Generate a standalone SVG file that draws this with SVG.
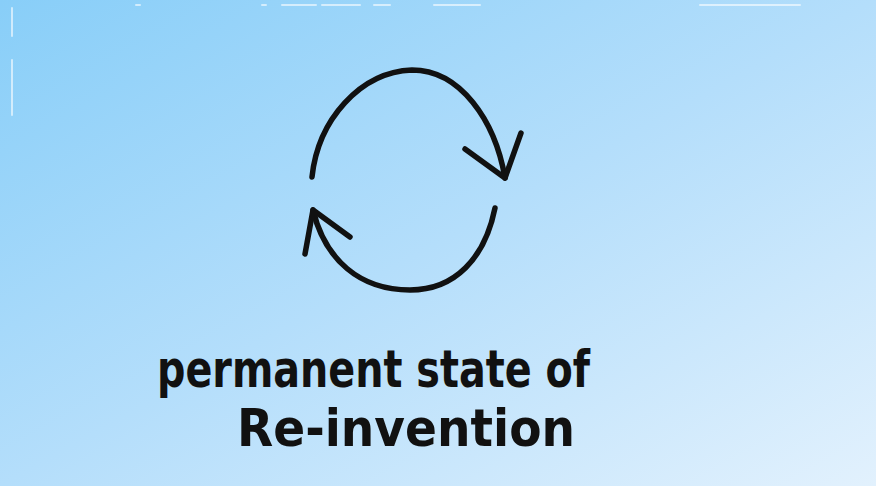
<svg xmlns="http://www.w3.org/2000/svg" width="876" height="486" viewBox="0 0 876 486">
<defs>
<linearGradient id="bg" x1="0" y1="0" x2="1" y2="1">
<stop offset="0" stop-color="#88cef8"/>
<stop offset="0.5" stop-color="#b4defb"/>
<stop offset="1" stop-color="#e2f1fd"/>
</linearGradient>
</defs>
<style>
.ink{fill:none;stroke:#111;stroke-width:5.5;stroke-linecap:round;stroke-linejoin:round}
.lbl{font-family:"DejaVu Sans Condensed","Liberation Sans",sans-serif;font-size:52px;fill:#111;font-weight:bold}
.frame{stroke:#ffffff;stroke-width:2;stroke-linecap:round;opacity:0.6}
</style>
<rect width="876" height="486" fill="url(#bg)"/>
<g id="frame-marks">
<line class="frame" x1="12" y1="8" x2="12" y2="36"/>
<line class="frame" x1="12" y1="60" x2="12" y2="115"/>
<line class="frame" x1="136" y1="5" x2="140" y2="5"/>
<line class="frame" x1="262" y1="5" x2="266" y2="5"/>
<line class="frame" x1="282" y1="5" x2="316" y2="5"/>
<line class="frame" x1="322" y1="5" x2="360" y2="5"/>
<line class="frame" x1="374" y1="5" x2="390" y2="5"/>
<line class="frame" x1="434" y1="5" x2="480" y2="5"/>
<line class="frame" x1="700" y1="5" x2="800" y2="5"/>
</g>
<g id="cycle">
<path class="ink" d="M312 177 C318 120 360 72 412 70 C460 70 495 120 505 178"/>
<path class="ink" d="M465 149 L505 178 L521 133"/>
<path class="ink" d="M495 208 C485 258 455 290 410 290 C360 290 325 260 313 210"/>
<path class="ink" d="M350 237 L313 210 L305 254"/>
</g>
<g id="label">
<text class="lbl" x="157" y="387" textLength="433" lengthAdjust="spacingAndGlyphs">permanent state of</text>
<text class="lbl" x="237" y="446" textLength="338" lengthAdjust="spacingAndGlyphs">Re-invention</text>
</g>
</svg>
